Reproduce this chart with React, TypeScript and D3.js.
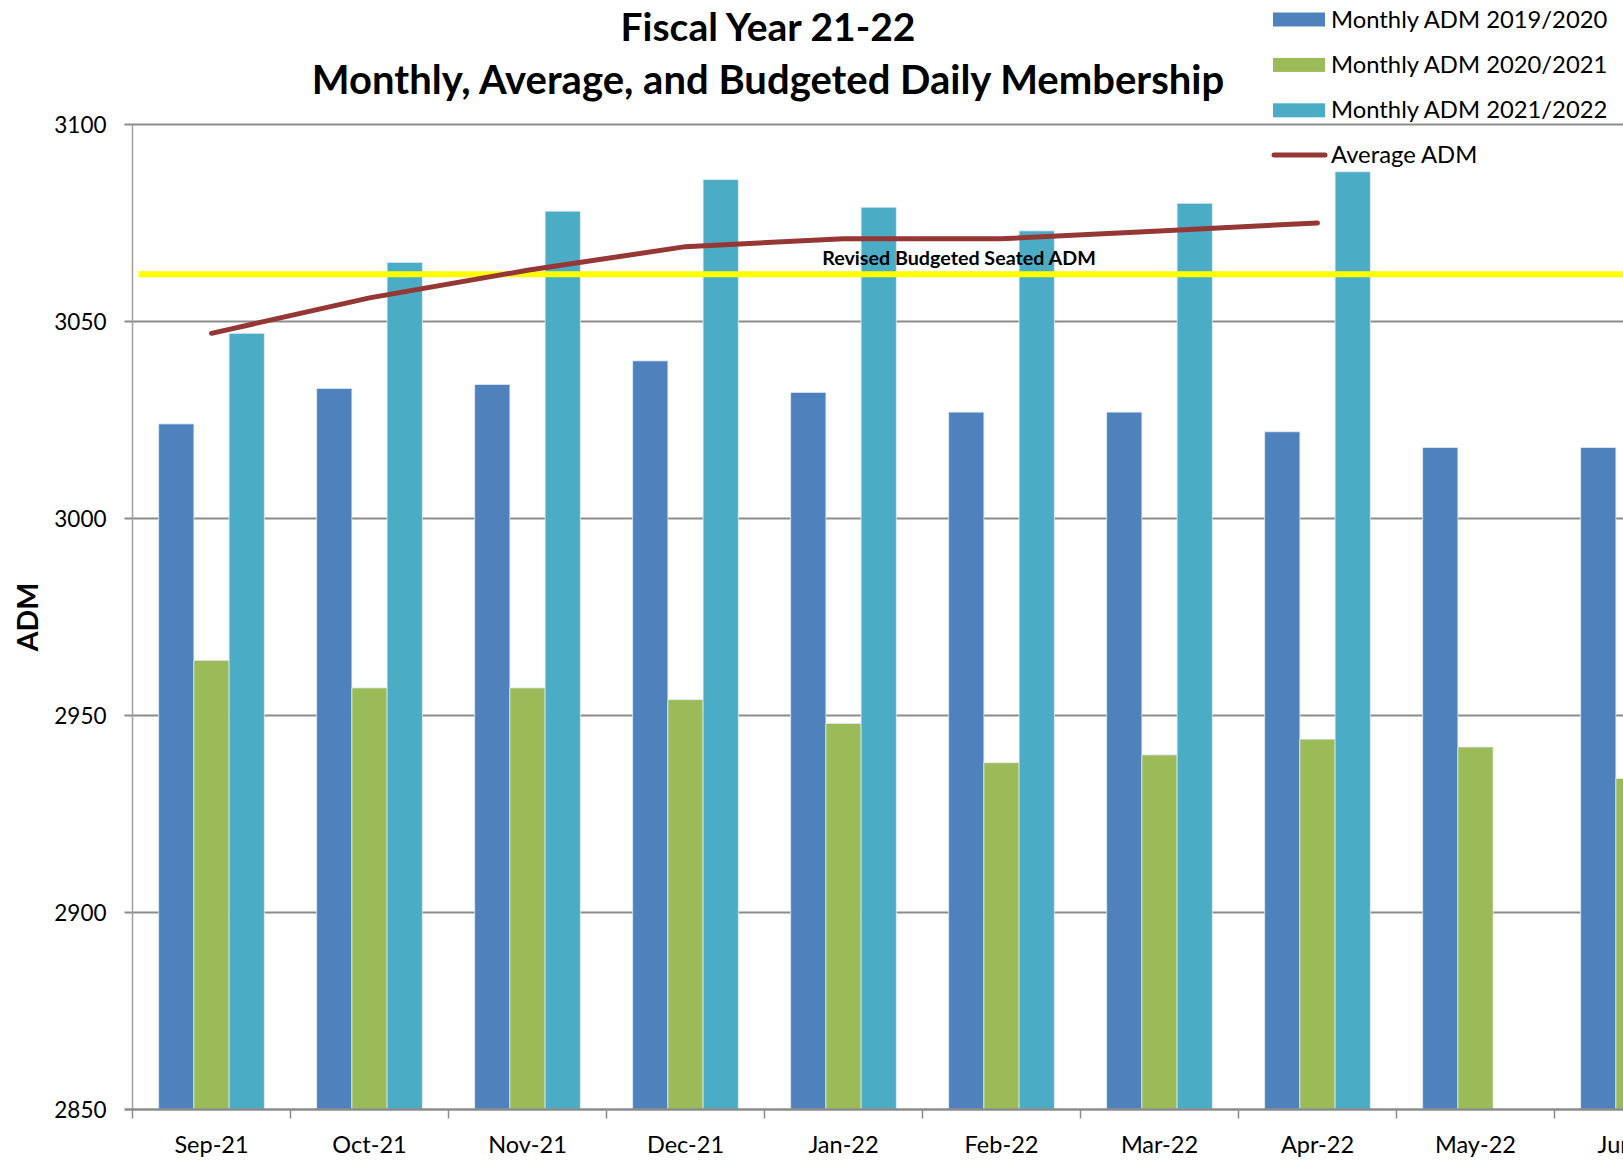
import React, { useEffect, useRef } from "react";
import * as d3 from "d3";

// Chart data
const months = ["Sep-21", "Oct-21", "Nov-21", "Dec-21", "Jan-22", "Feb-22", "Mar-22", "Apr-22", "May-22", "Jun-22"];
const adm1920 = [3024, 3033, 3034, 3040, 3032, 3027, 3027, 3022, 3018, 3018];
const adm2021 = [2964, 2957, 2957, 2954, 2948, 2938, 2940, 2944, 2942, 2934];
const adm2122 = [3047, 3065, 3078, 3086, 3079, 3073, 3080, 3088, null, null];
const avgAdm = [3047, 3056, 3063, 3069, 3071, 3071, 3073, 3075];
const budgetedAdm = 3062;
const yTicks = [2850, 2900, 2950, 3000, 3050, 3100];

const seriesNames = ["Monthly ADM 2019/2020", "Monthly ADM 2020/2021", "Monthly ADM 2021/2022"];
const seriesColors = ["#4F81BD", "#9BBB59", "#4BACC6"];

const FONT = "Lato, 'Noto Sans', sans-serif";

const Chart = () => {
  const svgRef = useRef<SVGSVGElement>(null);
  const width = 1623;
  const height = 1162;

  useEffect(() => {
    const svg = d3.select(svgRef.current);
    svg.selectAll("*").remove();

    const left = 132.5;
    const band = 158;
    const top = 124.5;
    const bottom = 1109.5;

    const xScale = d3
      .scaleBand()
      .domain(months)
      .range([left, left + band * months.length])
      .paddingInner(0)
      .paddingOuter(0);

    const yScale = d3.scaleLinear().domain([2850, 3100]).range([bottom, top]);

    // three bars side by side inside each month
    const inner = d3
      .scaleBand()
      .domain(["0", "1", "2"])
      .range([0, band])
      .paddingInner(0)
      .paddingOuter(0.745);

    // grid lines
    svg.append("g")
      .selectAll("line")
      .data(yTicks.slice(1))
      .enter()
      .append("line")
      .attr("x1", left - 8)
      .attr("x2", width)
      .attr("y1", (d) => yScale(d))
      .attr("y2", (d) => yScale(d))
      .attr("stroke", "#8c8c8c")
      .attr("stroke-width", 2);

    // bars
    const series = [adm1920, adm2021, adm2122];
    series.forEach((vals, si) => {
      svg.append("g")
        .selectAll("rect")
        .data(vals.map((v, i) => ({ m: months[i], v })).filter((d) => d.v != null))
        .enter()
        .append("rect")
        .attr("x", (d) => (xScale(d.m) as number) + (inner(String(si)) as number))
        .attr("width", inner.bandwidth())
        .attr("y", (d) => yScale(d.v as number))
        .attr("height", (d) => bottom - yScale(d.v as number))
        .attr("fill", seriesColors[si])
        .attr("stroke", "#dfe8f3")
        .attr("stroke-width", 0.8);
    });

    // y axis
    svg.append("line")
      .attr("x1", left)
      .attr("x2", left)
      .attr("y1", top)
      .attr("y2", bottom)
      .attr("stroke", "#a0a0a0")
      .attr("stroke-width", 1.5);

    svg.append("g")
      .selectAll("text")
      .data(yTicks)
      .enter()
      .append("text")
      .attr("x", left - 26)
      .attr("y", (d) => yScale(d) + 8)
      .attr("text-anchor", "end")
      .style("font-family", FONT)
      .style("font-size", "22.5px")
      .style("fill", "#000")
      .text((d) => d);

    // x axis
    svg.append("line")
      .attr("x1", left - 8)
      .attr("x2", width)
      .attr("y1", bottom)
      .attr("y2", bottom)
      .attr("stroke", "#8c8c8c")
      .attr("stroke-width", 2.5);

    svg.append("g")
      .selectAll("line")
      .data(d3.range(months.length + 1))
      .enter()
      .append("line")
      .attr("x1", (i) => left + band * i)
      .attr("x2", (i) => left + band * i)
      .attr("y1", bottom)
      .attr("y2", bottom + 9)
      .attr("stroke", "#8c8c8c")
      .attr("stroke-width", 1.5);

    svg.append("g")
      .selectAll("text")
      .data(months)
      .enter()
      .append("text")
      .attr("x", (d) => (xScale(d) as number) + band / 2)
      .attr("y", bottom + 43)
      .attr("text-anchor", "middle")
      .style("font-family", FONT)
      .style("font-size", "23.5px")
      .style("fill", "#000")
      .text((d) => d);

    // budgeted line
    svg.append("line")
      .attr("x1", left + 6)
      .attr("x2", width)
      .attr("y1", yScale(budgetedAdm))
      .attr("y2", yScale(budgetedAdm))
      .attr("stroke", "#FFFF00")
      .attr("stroke-width", 6);

    svg.append("text")
      .attr("x", (xScale("Feb-22") as number) + 36.5)
      .attr("y", yScale(budgetedAdm) - 9)
      .attr("text-anchor", "middle")
      .style("font-family", FONT)
      .style("font-weight", "bold")
      .style("font-size", "19.7px")
      .style("fill", "#000")
      .text("Revised Budgeted Seated ADM");

    // average line
    const line = d3
      .line<number>()
      .x((_, i) => (xScale(months[i]) as number) + band / 2)
      .y((d) => yScale(d));

    svg.append("path")
      .datum(avgAdm)
      .attr("fill", "none")
      .attr("stroke", "#953735")
      .attr("stroke-width", 5)
      .attr("stroke-linecap", "round")
      .attr("stroke-linejoin", "round")
      .attr("d", line);

    // y label
    svg.append("text")
      .attr("transform", `translate(38, ${(top + bottom) / 2}) rotate(-90)`)
      .attr("text-anchor", "middle")
      .style("font-family", FONT)
      .style("font-weight", "bold")
      .style("font-size", "28.5px")
      .text("ADM");

    // title
    svg.append("text")
      .attr("x", 768)
      .attr("y", 41)
      .attr("text-anchor", "middle")
      .style("font-family", FONT)
      .style("font-weight", "bold")
      .style("font-size", "39px")
      .text("Fiscal Year 21-22");

    svg.append("text")
      .attr("x", 768)
      .attr("y", 94)
      .attr("text-anchor", "middle")
      .style("font-family", FONT)
      .style("font-weight", "bold")
      .style("font-size", "40px")
      .text("Monthly, Average, and Budgeted Daily Membership");

    // legend
    const legend = svg.append("g").attr("transform", "translate(1273, 0)");
    seriesNames.forEach((name, i) => {
      const cy = 19.5 + i * 45.4;
      legend.append("rect")
        .attr("x", 0)
        .attr("y", cy - 7)
        .attr("width", 52)
        .attr("height", 14)
        .attr("fill", seriesColors[i]);
      legend.append("text")
        .attr("x", 58)
        .attr("y", cy + 8)
        .style("font-family", FONT)
        .style("font-size", "23.8px")
        .text(name);
    });
    const ly = 19.5 + 3 * 45.2;
    legend.append("line")
      .attr("x1", 1)
      .attr("x2", 52)
      .attr("y1", ly)
      .attr("y2", ly)
      .attr("stroke", "#953735")
      .attr("stroke-width", 5)
      .attr("stroke-linecap", "round");
    legend.append("text")
      .attr("x", 58)
      .attr("y", ly + 8)
      .style("font-family", FONT)
      .style("font-size", "23.8px")
      .text("Average ADM");
  }, []);

  return (
    <svg
      ref={svgRef}
      width={width}
      height={height}
      style={{ position: "absolute", left: 0, top: 0, background: "#fff" }}
    ></svg>
  );
};

export default function App() {
  return <Chart />;
}
